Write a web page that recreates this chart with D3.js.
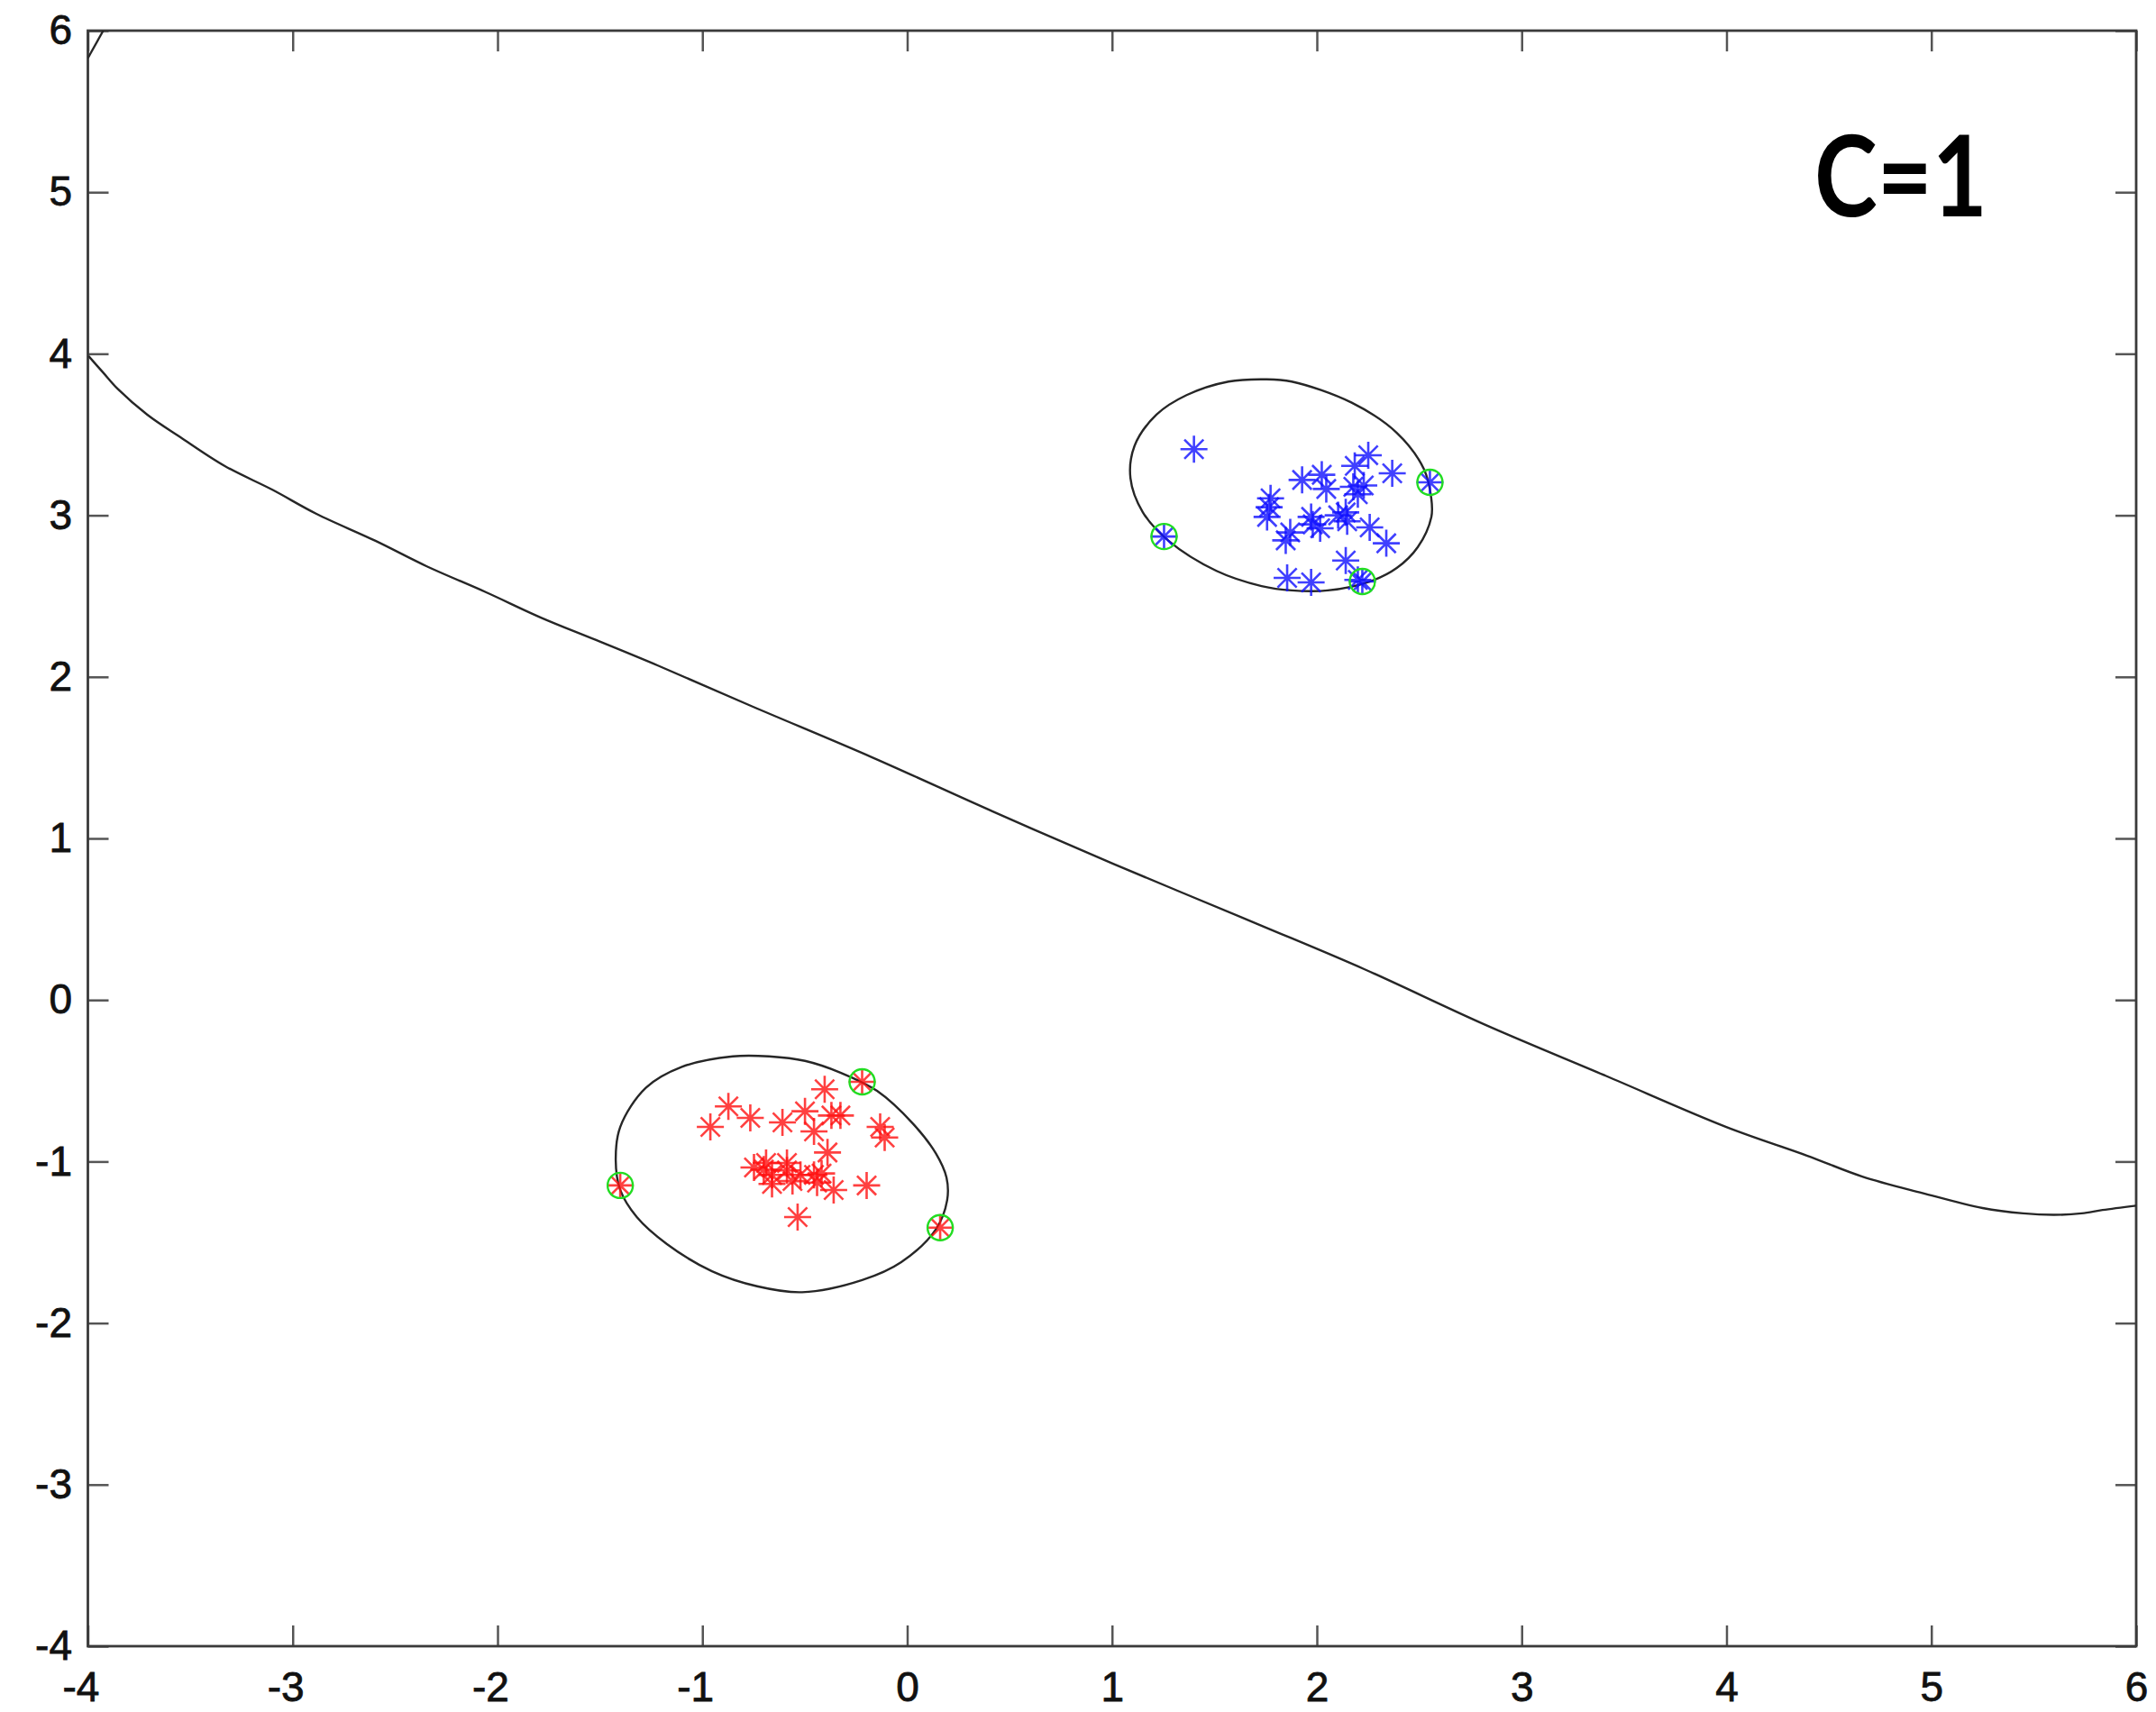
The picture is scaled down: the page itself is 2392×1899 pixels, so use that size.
<!DOCTYPE html>
<html>
<head>
<meta charset="utf-8">
<script src="https://cdn.jsdelivr.net/npm/d3@7"></script>
<style>
  html, body { margin: 0; padding: 0; background: #ffffff; }
  svg { display: block; }
</style>
</head>
<body>
<svg id="chart" width="2392" height="1899"></svg>
<script>
// ---- data -------------------------------------------------------------
const xTicks = [-4, -3, -2, -1, 0, 1, 2, 3, 4, 5, 6];
const yTicks = [-4, -3, -2, -1, 0, 1, 2, 3, 4, 5, 6];
const panelLabel = "C=1";

// class +1 samples (blue)
const bluePoints = [
  [1.400, 3.409], [1.928, 3.219], [2.024, 3.251], [2.046, 3.163], [2.251, 3.372],
  [2.185, 3.306], [2.368, 3.260], [2.178, 3.176], [2.229, 3.185], [2.200, 3.130],
  [1.774, 3.105], [1.767, 3.050], [1.757, 2.990], [1.972, 2.990], [1.980, 2.944],
  [2.016, 2.920], [2.104, 3.000], [2.141, 3.018], [2.148, 2.963], [1.870, 2.894],
  [1.848, 2.845], [2.258, 2.925], [2.339, 2.827], [2.141, 2.720], [1.855, 2.613],
  [1.972, 2.585], [2.200, 2.600]
];
const blueSupport = [[1.254, 2.869], [2.552, 3.204], [2.222, 2.590]];

// class -1 samples (red)
const redPoints = [
  [-0.403, -0.553], [-0.873, -0.659], [-0.961, -0.786], [-0.766, -0.730], [-0.609, -0.758],
  [-0.499, -0.689], [-0.370, -0.715], [-0.326, -0.715], [-0.455, -0.814], [-0.132, -0.786],
  [-0.110, -0.851], [-0.389, -0.944], [-0.748, -1.037], [-0.689, -1.009], [-0.587, -1.009],
  [-0.660, -1.083], [-0.660, -1.139], [-0.587, -1.055], [-0.521, -1.083], [-0.560, -1.121],
  [-0.455, -1.083], [-0.418, -1.074], [-0.440, -1.130], [-0.359, -1.176], [-0.198, -1.148],
  [-0.535, -1.344], [-0.700, -1.050]
];
const redSupport = [[-1.401, -1.148], [-0.220, -0.507], [0.161, -1.409]];

// decision boundary f(x)=0
const boundaryCurve = [
  [-3.997, 3.986], [-3.925, 3.883], [-3.853, 3.781], [-3.710, 3.623], [-3.548, 3.483],
  [-3.333, 3.306], [-3.099, 3.158], [-2.884, 3.009], [-2.596, 2.842], [-2.345, 2.684],
  [-2.058, 2.525], [-1.788, 2.367], [-1.519, 2.228], [-1.217, 2.070], [-0.760, 1.819],
  [-0.171, 1.502], [0.418, 1.167], [1.008, 0.842], [1.730, 0.460], [2.231, 0.191],
  [2.821, -0.153], [3.410, -0.469], [3.999, -0.786], [4.392, -0.963], [4.663, -1.093],
  [4.956, -1.195], [5.250, -1.288], [5.448, -1.321], [5.600, -1.330], [5.734, -1.321],
  [5.836, -1.300], [6.000, -1.273]
];
const boundaryCorner = [[-4.000, 5.830], [-3.925, 6.000]];

// margin contour f(x)=+1 around the blue class
const blueContour = [
  [1.569, 3.828], [1.745, 3.842], [1.877, 3.828], [2.170, 3.697], [2.390, 3.511],
  [2.522, 3.288], [2.559, 3.102], [2.559, 2.990], [2.493, 2.804], [2.390, 2.674],
  [2.258, 2.590], [2.053, 2.535], [1.877, 2.535], [1.730, 2.562], [1.510, 2.656],
  [1.276, 2.842], [1.150, 3.020], [1.090, 3.230], [1.110, 3.430], [1.217, 3.623],
  [1.364, 3.744]
];

// margin contour f(x)=-1 around the red class
const redContour = [
  [-0.851, -0.349], [-0.675, -0.349], [-0.499, -0.377], [-0.323, -0.451], [-0.147, -0.563],
  [0.029, -0.767], [0.140, -0.950], [0.192, -1.100], [0.195, -1.240], [0.140, -1.420],
  [-0.029, -1.623], [-0.220, -1.734], [-0.513, -1.809], [-0.733, -1.772], [-0.953, -1.679],
  [-1.173, -1.511], [-1.320, -1.344], [-1.401, -1.176], [-1.423, -0.991], [-1.401, -0.786],
  [-1.276, -0.544], [-1.100, -0.414]
];

// ---- layout -----------------------------------------------------------
const plot = { left: 97.5, right: 2370, top: 34, bottom: 1826 };
const x = d3.scaleLinear().domain([-4, 6]).range([plot.left, plot.right]);
const y = d3.scaleLinear().domain([-4, 6]).range([plot.bottom, plot.top]);

const svg = d3.select("#chart");
const tickLen = 23;
const fontFamily = "'Liberation Sans', Arial, Helvetica, sans-serif";

svg.append("defs").append("clipPath").attr("id", "plotClip")
  .append("rect")
  .attr("x", plot.left).attr("y", plot.top)
  .attr("width", plot.right - plot.left).attr("height", plot.bottom - plot.top);

// ---- axes (ticks pointing inward on all four sides) --------------------
function styleAxis(g) {
  g.select(".domain").remove();
  g.selectAll(".tick line").attr("stroke", "#555").attr("stroke-width", 2.5);
  g.selectAll(".tick text")
    .attr("fill", "#111")
    .attr("stroke", "#111")
    .attr("stroke-width", 0.8)
    .style("font-family", fontFamily)
    .style("font-size", "46px");
}

const fmt = d => d < 0 ? "-" + Math.abs(d) : String(d);

svg.append("g")
  .attr("transform", `translate(0,${plot.bottom})`)
  .call(d3.axisBottom(x).tickValues(xTicks).tickSize(-tickLen).tickPadding(28).tickFormat(fmt))
  .call(styleAxis)
  .call(g => g.selectAll(".tick text").attr("dx", d => d < 0 ? -8 : 0));

svg.append("g")
  .attr("transform", `translate(0,${plot.top})`)
  .call(d3.axisTop(x).tickValues(xTicks).tickSize(-tickLen).tickFormat(""))
  .call(styleAxis);

svg.append("g")
  .attr("transform", `translate(${plot.left},0)`)
  .call(d3.axisLeft(y).tickValues(yTicks).tickSize(-tickLen).tickPadding(17.5).tickFormat(fmt))
  .call(styleAxis);

svg.append("g")
  .attr("transform", `translate(${plot.right},0)`)
  .call(d3.axisRight(y).tickValues(yTicks).tickSize(-tickLen).tickFormat(""))
  .call(styleAxis);

svg.append("rect")
  .attr("x", plot.left).attr("y", plot.top)
  .attr("width", plot.right - plot.left).attr("height", plot.bottom - plot.top)
  .attr("fill", "none").attr("stroke", "#3a3a3a").attr("stroke-width", 2.8);

// ---- contour lines ----------------------------------------------------
const curves = svg.append("g").attr("clip-path", "url(#plotClip)")
  .attr("fill", "none").attr("stroke", "#262626").attr("stroke-width", 2.4);

const openLine = d3.line().x(d => x(d[0])).y(d => y(d[1])).curve(d3.curveCatmullRom);
const closedLine = d3.line().x(d => x(d[0])).y(d => y(d[1])).curve(d3.curveCatmullRomClosed);

curves.append("path").attr("d", openLine(boundaryCurve));
curves.append("path").attr("d", openLine(boundaryCorner));
curves.append("path").attr("d", closedLine(blueContour));
curves.append("path").attr("d", closedLine(redContour));

// ---- asterisk markers -------------------------------------------------
const r = 15, rd = r * Math.SQRT1_2;
const asterisk = `M0,${-r}V${r}M${-r},0H${r}M${-rd},${-rd}L${rd},${rd}M${-rd},${rd}L${rd},${-rd}`;

function drawStars(data, color) {
  svg.append("g")
    .selectAll("path")
    .data(data)
    .join("path")
    .attr("transform", d => `translate(${x(d[0])},${y(d[1])})`)
    .attr("d", asterisk)
    .attr("fill", "none")
    .attr("stroke", color)
    .attr("stroke-width", 2.6)
    .attr("stroke-opacity", 0.8);
}

drawStars(redPoints.concat(redSupport), "#ff1010");
drawStars(bluePoints.concat(blueSupport), "#1010ff");

// ---- support vector rings ---------------------------------------------
svg.append("g")
  .selectAll("circle")
  .data(blueSupport.concat(redSupport))
  .join("circle")
  .attr("cx", d => x(d[0]))
  .attr("cy", d => y(d[1]))
  .attr("r", 14)
  .attr("fill", "none")
  .attr("stroke", "#22dd22")
  .attr("stroke-width", 2.4);

// ---- panel label ------------------------------------------------------
svg.append("text")
  .attr("x", 2013)
  .attr("y", 240)
  .attr("fill", "#000")
  .attr("textLength", 192)
  .attr("lengthAdjust", "spacingAndGlyphs")
  .style("font-family", "'Century Gothic', Futura, Lato, sans-serif")
  .style("font-weight", 700)
  .style("font-size", "124px")
  .text(panelLabel);
</script>
</body>
</html>
